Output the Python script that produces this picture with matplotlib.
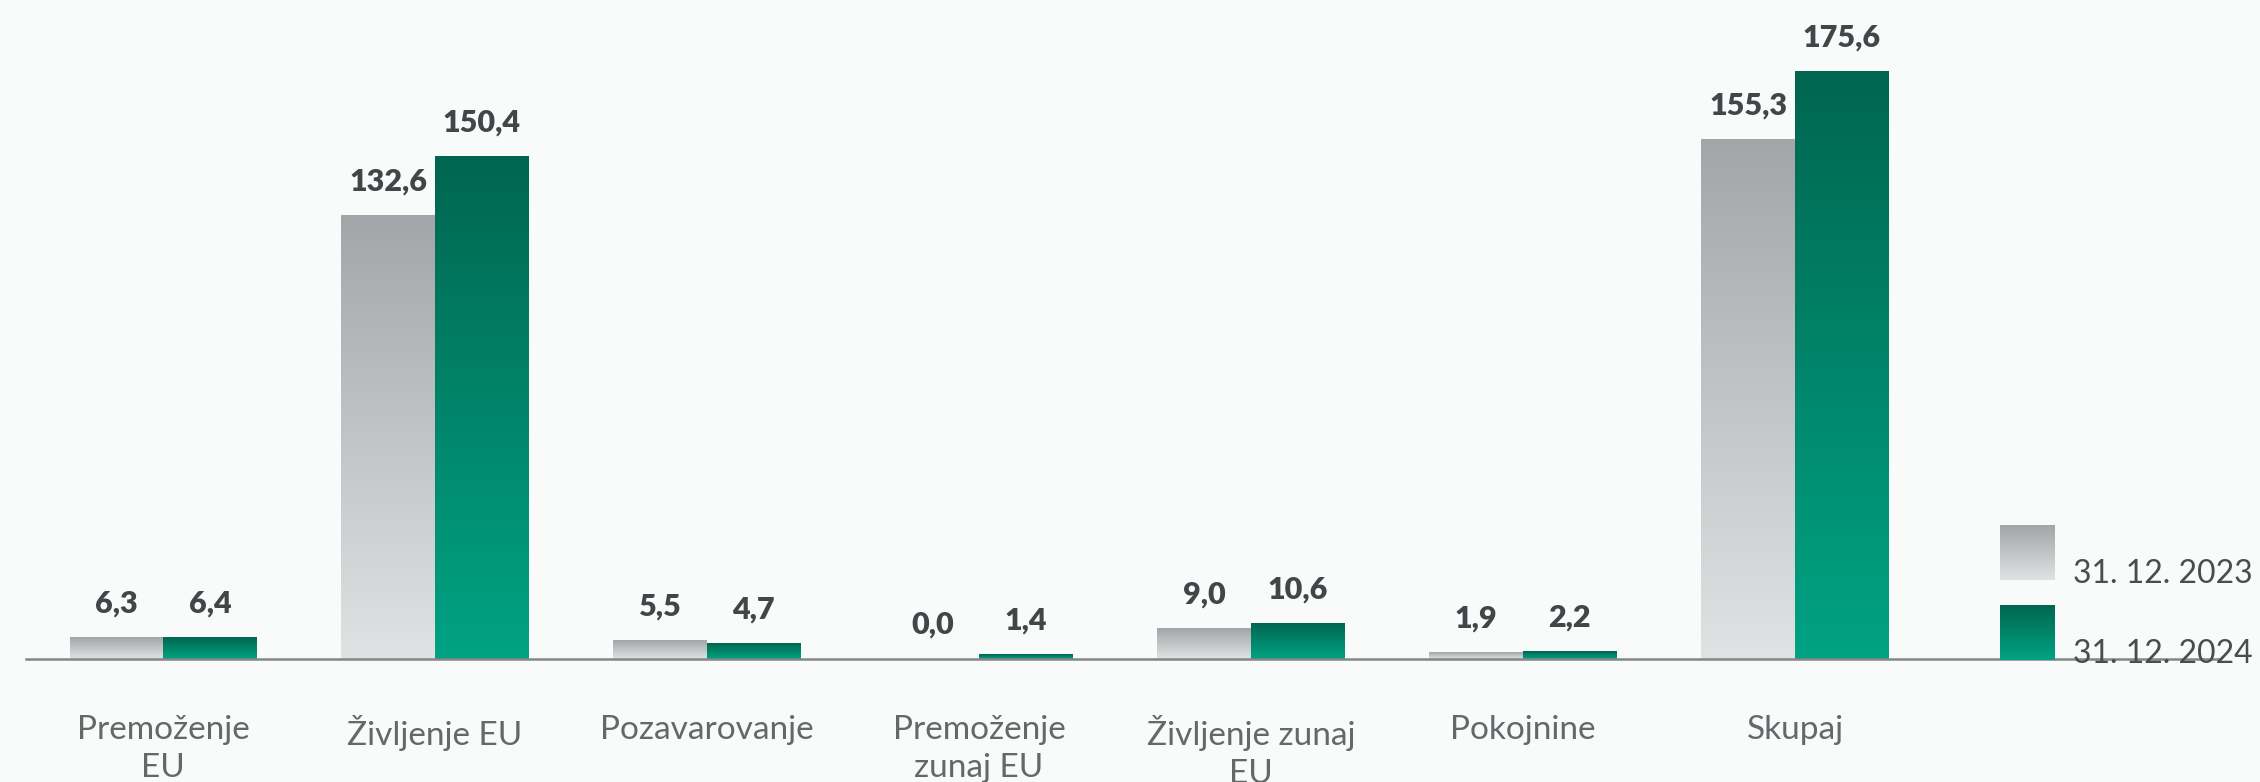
import numpy as np
import matplotlib
matplotlib.use("Agg")
from matplotlib import pyplot as plt
from matplotlib.colors import LinearSegmentedColormap

# podatki
kategorije = ['Premoženje\nEU', 'Življenje EU', 'Pozavarovanje', 'Premoženje\nzunaj EU',
              'Življenje zunaj\nEU', 'Pokojnine', 'Skupaj']
leto_2023 = [6.3, 132.6, 5.5, 0.0, 9.0, 1.9, 155.3]
leto_2024 = [6.4, 150.4, 4.7, 1.4, 10.6, 2.2, 175.6]
legenda = ['31. 12. 2023', '31. 12. 2024']

ozadje = '#f9fafa'
siva = LinearSegmentedColormap.from_list('siva', ['#e1e2e4', '#a3a5a8'])
zelena = LinearSegmentedColormap.from_list('zelena', ['#00a383', '#006650'])
grad = np.linspace(0, 1, 256).reshape(-1, 1)

plt.rcParams['font.family'] = ['Lato', 'DejaVu Sans']

fig = plt.figure(figsize=(22.6, 7.82), dpi=100, facecolor=ozadje)
ax = fig.add_axes([0.0115, 0.1573, 0.9705, 0.8427])
ax.set_facecolor(ozadje)

x = np.arange(len(kategorije))
w = 0.344


def gradient_bar(xc, h, cmap):
    if h <= 0:
        return
    ax.imshow(grad, cmap=cmap, origin='lower', aspect='auto',
              extent=(xc - w / 2, xc + w / 2, 0, h), zorder=2)


for i in range(len(x)):
    gradient_bar(x[i] - w / 2, leto_2023[i], siva)
    gradient_bar(x[i] + w / 2, leto_2024[i], zelena)
    for xc, v in [(x[i] - w / 2, leto_2023[i]), (x[i] + w / 2, leto_2024[i])]:
        ax.annotate(('%.1f' % v).replace('.', ','), (xc, v), xytext=(0, 18),
                    textcoords='offset points', ha='center', va='baseline',
                    fontsize=22, fontweight='heavy', color='#434649')

ax.set_xlim(-0.504, 7.56)
ax.set_ylim(0, 197.1)
for s in ['top', 'right', 'left']:
    ax.spines[s].set_visible(False)
ax.spines['bottom'].set_color('#858688')
ax.spines['bottom'].set_linewidth(1.8)
ax.set_yticks([])
ax.set_xticks(x)
ax.set_xticklabels(kategorije, fontsize=24, fontweight='normal', color='#66676a',
                   linespacing=1.35)
ax.tick_params(axis='x', length=0, pad=40)

# legenda
for j, cm in enumerate([siva, zelena]):
    lax = fig.add_axes([2000 / 2260, 1 - (580 + 80 * j) / 782, 55 / 2260, 55 / 782])
    lax.imshow(grad, cmap=cm, origin='lower', aspect='auto')
    lax.axis('off')
    fig.text(2073 / 2260, 1 - (583 + 80 * j) / 782, legenda[j], fontsize=23,
             color='#4a4c4f', ha='left', va='baseline')

plt.savefig('out.png', dpi=100, facecolor=ozadje)
